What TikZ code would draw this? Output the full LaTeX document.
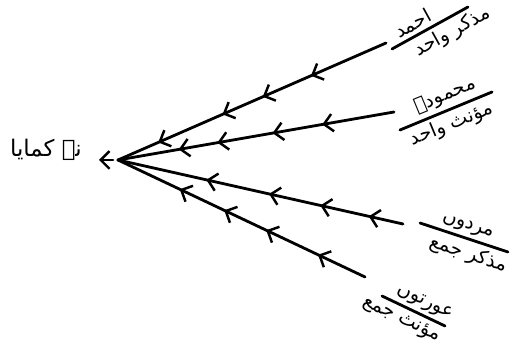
\documentclass[tikz,border=0pt]{standalone}
\usepackage{fontspec}
\newfontfamily\urdufont[Script=Arabic]{DejaVu Sans}
\TeXXeTstate=1
\usetikzlibrary{arrows.meta, decorations.markings}

\begin{document}
\begin{tikzpicture}[
    x=0.02cm, y=-0.02cm,
    word/.style={
        font=\urdufont\fontsize{11}{13}\selectfont,
        inner sep=1pt
    },
    ray/.style={
        line width=1.6pt,
        line cap=round
    },
    barb/.style={
        -{Straight Barb[length=5pt, width=10pt, line width=1.4pt]}
    },
    heads/.style n args={4}{
        decoration={markings,
            mark=at position #1 with {\arrow{Straight Barb[length=5pt, width=10pt, line width=1.4pt]}},
            mark=at position #2 with {\arrow{Straight Barb[length=5pt, width=10pt, line width=1.4pt]}},
            mark=at position #3 with {\arrow{Straight Barb[length=5pt, width=10pt, line width=1.4pt]}},
            mark=at position #4 with {\arrow{Straight Barb[length=5pt, width=10pt, line width=1.4pt]}}},
        postaction={decorate}
    }
]
\useasboundingbox (0,0) rectangle (514,354);

% Verb on the left
\node (verb) at (46,150) [word, font=\urdufont\fontsize{13}{15}\selectfont] {\beginR نے کمایا\endR};
\coordinate (hub) at (118,160);
\coordinate (stub) at (113,160);
\coordinate (tip) at (99,160);
\draw [ray, barb] (stub) -- (tip);

% Ray ends
\coordinate (e1) at (386,43);
\coordinate (e2) at (394,112);
\coordinate (e3) at (403,224);
\coordinate (e4) at (365,277);

% Rays (label -> verb)
\draw [ray, heads={0.28}{0.46}{0.61}{0.85}] (e1) -- (hub);
\draw [ray, heads={0.26}{0.44}{0.64}{0.78}] (e2) -- (hub);
\draw [ray, heads={0.12}{0.29}{0.47}{0.69}] (e3) -- (hub);
\draw [ray, heads={0.19}{0.40}{0.57}{0.75}] (e4) -- (hub);

% Fraction bars with their labels
\coordinate (b1s) at (392,49);  \coordinate (b1e) at (468,7);
\coordinate (b2s) at (400,130); \coordinate (b2e) at (492,92);
\coordinate (b3s) at (420,223); \coordinate (b3e) at (508,252);
\coordinate (b4s) at (382,296); \coordinate (b4e) at (445,326);
\draw [ray] (b1s) -- (b1e)
    node (top1) [word, pos=0.35, above=1pt, sloped] {\beginR احمد\endR}
    node (low1) [word, pos=0.7, below=1pt, sloped] {\beginR مذکر واحد\endR};
\draw [ray] (b2s) -- (b2e)
    node (top2) [word, pos=0.55, above=1pt, sloped] {\beginR محمودہ\endR}
    node (low2) [word, pos=0.5, below=1pt, sloped] {\beginR مؤنث واحد\endR};
\draw [ray] (b3s) -- (b3e)
    node (top3) [word, pos=0.5, above=1pt, sloped] {\beginR مردوں\endR}
    node (low3) [word, pos=0.6, below=1pt, sloped] {\beginR مذکر جمع\endR};
\draw [ray] (b4s) -- (b4e)
    node (top4) [word, pos=0.6, above=1pt, sloped] {\beginR عورتوں\endR}
    node (low4) [word, pos=0.4, below=1pt, sloped] {\beginR مؤنث جمع\endR};

\end{tikzpicture}
\end{document}
